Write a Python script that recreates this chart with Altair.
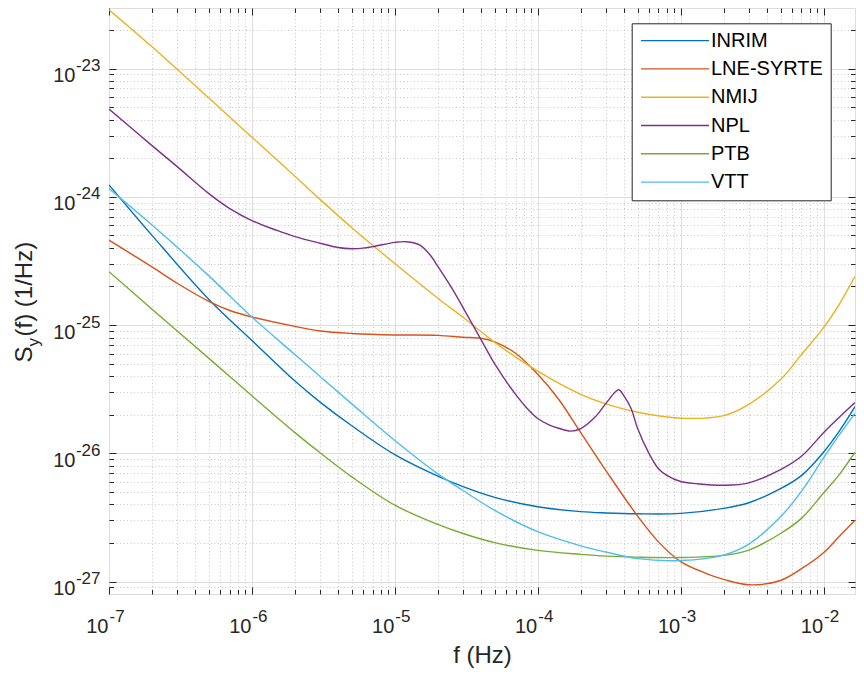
import altair as alt
import pandas as pd

# ---------------- data ----------------
SERIES = ["INRIM", "LNE-SYRTE", "NMIJ", "NPL", "PTB", "VTT"]
COLORS = ["#0072BD", "#D95319", "#EDB120", "#7E2F8E", "#77AC30", "#4DBEEE"]

F_COMMON = [1e-7, 2e-7, 5e-7, 1e-6, 2e-6, 3e-6, 5e-6, 1e-5, 2e-5, 3e-5, 5e-5,
            1e-4, 2e-4, 3e-4, 5e-4, 1e-3, 2e-3, 3e-3, 5e-3, 7e-3, 1e-2, 1.3e-2, 1.66e-2]

INRIM_S = [1.24e-24, 5.01e-25, 1.585e-25, 7.59e-26, 3.66e-26, 2.51e-26, 1.64e-26, 9.77e-27,
           6.64e-27, 5.5e-27, 4.54e-27, 3.83e-27, 3.51e-27, 3.43e-27, 3.38e-27, 3.4e-27,
           3.72e-27, 4.12e-27, 5.3e-27, 6.7e-27, 1.02e-26, 1.51e-26, 2.31e-26]

VTT_S = [1.16e-24, 6.03e-25, 2.42e-25, 1.156e-25, 5.89e-26, 3.98e-26, 2.43e-26, 1.26e-26,
         6.92e-27, 5.13e-27, 3.59e-27, 2.45e-27, 1.9e-27, 1.7e-27, 1.51e-27, 1.46e-27,
         1.61e-27, 1.96e-27, 3.2e-27, 5.05e-27, 9.2e-27, 1.41e-26, 2.05e-26]

PTB_S = [2.61e-25, 1.33e-25, 5.5e-26, 2.81e-26, 1.45e-26, 1.01e-26, 6.56e-27, 3.94e-27,
         2.79e-27, 2.37e-27, 2.01e-27, 1.75e-27, 1.63e-27, 1.58e-27, 1.55e-27, 1.54e-27,
         1.6e-27, 1.76e-27, 2.37e-27, 3.11e-27, 4.9e-27, 6.92e-27, 1.02e-26]

NMIJ_S = [2.88e-23, 1.48e-23, 5.89e-24, 2.92e-24, 1.45e-24, 9.55e-25, 5.75e-25, 3.02e-25,
          1.62e-25, 1.15e-25, 7.33e-26, 4.37e-26, 2.88e-26, 2.43e-26, 2.09e-26, 1.88e-26,
          1.97e-26, 2.41e-26, 3.76e-26, 5.89e-26, 9.55e-26, 1.48e-25, 2.4e-25]

LNE_F = [1e-7, 2e-7, 3e-7, 5e-7, 7e-7, 1e-6, 2e-6, 3e-6, 5e-6, 1e-5, 2e-5, 3e-5, 4e-5,
         5e-5, 7e-5, 1e-4, 1.4e-4, 2e-4, 3e-4, 5e-4, 7e-4, 1e-3, 1.5e-3, 2e-3, 3e-3,
         5e-3, 7e-3, 1e-2, 1.3e-2, 1.66e-2]
LNE_S = [4.6e-25, 2.84e-25, 2.12e-25, 1.53e-25, 1.30e-25, 1.156e-25, 9.77e-26, 9.0e-26,
         8.61e-26, 8.38e-26, 8.32e-26, 8.04e-26, 7.89e-26, 7.41e-26, 6.03e-26, 4.13e-26,
         2.64e-26, 1.45e-26, 7.33e-27, 3.24e-27, 2.04e-27, 1.43e-27, 1.16e-27, 1.04e-27,
         9.44e-28, 1.02e-27, 1.26e-27, 1.68e-27, 2.28e-27, 3.01e-27]

NPL_F = [1e-7, 2e-7, 3e-7, 5e-7, 7e-7, 1e-6, 1.5e-6, 2e-6, 3e-6, 4e-6, 5e-6, 6e-6, 7e-6,
         1e-5, 1.2e-5, 1.5e-5, 1.8e-5, 2e-5, 2.5e-5, 3e-5, 4e-5, 5e-5, 7e-5, 8.5e-5,
         1e-4, 1.2e-4, 1.4e-4, 1.7e-4, 2e-4, 2.5e-4, 3e-4, 3.5e-4, 3.7e-4, 4e-4, 4.5e-4,
         5e-4, 6e-4, 7e-4, 8e-4, 1e-3, 1.3e-3, 2e-3, 3e-3, 5e-3, 7e-3, 1e-2, 1.3e-2,
         1.66e-2]
NPL_S = [4.83e-24, 2.51e-24, 1.72e-24, 1.06e-24, 8.1e-25, 6.53e-25, 5.47e-25, 4.9e-25,
         4.35e-25, 4.03e-25, 3.94e-25, 3.98e-25, 4.09e-25, 4.42e-25, 4.47e-25, 4.21e-25,
         3.43e-25, 2.87e-25, 1.95e-25, 1.37e-25, 7.74e-26, 4.98e-26, 2.88e-26, 2.22e-26,
         1.87e-26, 1.67e-26, 1.57e-26, 1.49e-26, 1.56e-26, 1.9e-26, 2.45e-26, 3.02e-26,
         3.13e-26, 2.82e-26, 2.24e-26, 1.56e-26, 1.0e-26, 7.59e-27, 6.74e-27, 6.03e-27,
         5.8e-27, 5.64e-27, 5.89e-27, 7.46e-27, 9.48e-27, 1.45e-26, 1.93e-26, 2.49e-26]

X_MAJOR = [1e-7, 1e-6, 1e-5, 1e-4, 1e-3, 1e-2]
Y_MAJOR = [1e-27, 1e-26, 1e-25, 1e-24, 1e-23]
X_DOMAIN = [1e-7, 1.66e-2]
Y_DOMAIN = [8e-28, 2.97e-23]
X_MINOR = [m * d for d in X_MAJOR[:-1] for m in range(2, 10)]
Y_MINOR = [9e-28] + [m * d for d in Y_MAJOR[:-1] for m in range(2, 10)] + [2e-23]

series_data = {
    "INRIM": (F_COMMON, INRIM_S),
    "LNE-SYRTE": (LNE_F, LNE_S),
    "NMIJ": (F_COMMON, NMIJ_S),
    "NPL": (NPL_F, NPL_S),
    "PTB": (F_COMMON, PTB_S),
    "VTT": (F_COMMON, VTT_S),
}
rows = []
for name in SERIES:
    fs, ss = series_data[name]
    for f, s in zip(fs, ss):
        rows.append({"series": name, "f": f, "S": s})
df = pd.DataFrame(rows)

# ---------------- styling ----------------
W, H = 746, 586
FONT = "Liberation Sans"
DARK = "#262626"
EXP = "'-' + round(-log(datum.value) / LN10)"

xs = alt.Scale(type="log", domain=X_DOMAIN, nice=False)
ys = alt.Scale(type="log", domain=Y_DOMAIN, nice=False)

common = dict(domain=False, labelFont=FONT, labelColor=DARK, tickColor=DARK, tickWidth=1,
              labelFlush=False, labelOverlap=False, titleFont=FONT, titleColor=DARK,
              titleFontWeight="normal")


def ax(**kw):
    d = dict(common)
    d.update(kw)
    return alt.Axis(**d)


# layer 1: data lines + major grid + "10" labels + titles
lines = alt.Chart(df).mark_line(strokeWidth=1.4, interpolate="catmull-rom", clip=True).encode(
    x=alt.X("f:Q", scale=xs, axis=ax(
        orient="bottom", values=X_MAJOR, grid=True, gridColor="#dedede", gridWidth=1,
        ticks=False, labelExpr="'10'", labelFontSize=20, labelAlign="right",
        labelBaseline="alphabetic", labelPadding=38, labelOffset=-1,
        title="f (Hz)", titleFontSize=24, titleX=W / 2, titleY=68, titleAlign="center",
        titleBaseline="alphabetic")),
    y=alt.Y("S:Q", scale=ys, axis=ax(
        orient="left", values=Y_MAJOR, grid=True, gridColor="#dedede", gridWidth=1,
        ticks=False, labelExpr="'10'", labelFontSize=20, labelAlign="right",
        labelBaseline="alphabetic", labelPadding=34, labelOffset=13,
        title="(f) (1/Hz)", titleFontSize=24, titleAngle=270, titleX=-78, titleY=328,
        titleAlign="left", titleBaseline="alphabetic")),
    color=alt.Color("series:N", title=None,
                    scale=alt.Scale(domain=SERIES, range=COLORS),
                    legend=alt.Legend(orient="none", legendX=522.7, legendY=15.3,
                                      symbolType="M0,0H8", symbolSize=289,
                                      symbolStrokeWidth=1.4, symbolOffset=-8,
                                      labelOffset=60, labelFont=FONT, labelFontSize=20,
                                      labelColor="#000000", padding=7.3, rowPadding=8.3,
                                      fillColor="#ffffff", strokeColor=DARK,
                                      cornerRadius=0, labelLimit=0)),
)

# layer 2: minor grid + "S" title
minor_grid = alt.Chart(df).mark_point(opacity=0).encode(
    x=alt.X("f:Q", scale=xs, title=None, axis=ax(
        orient="bottom", values=X_MINOR, grid=True, gridColor="#c9c9c9", gridDash=[1, 2.5],
        ticks=False, labels=False)),
    y=alt.Y("S:Q", scale=ys, axis=ax(
        orient="left", values=Y_MINOR, grid=True, gridColor="#c9c9c9", gridDash=[1, 2.5],
        ticks=False, labels=False, title="S", titleFontSize=24, titleAngle=270,
        titleX=-78, titleY=354, titleAlign="left", titleBaseline="alphabetic")),
)

# layer 3: inward major ticks bottom/left + exponent labels + subscript "y"
major_ticks = alt.Chart(df).mark_point(opacity=0).encode(
    x=alt.X("f:Q", scale=xs, title=None, axis=ax(
        orient="bottom", offset=-7, values=X_MAJOR, grid=False, ticks=True, tickSize=7,
        labelExpr=EXP, labelFontSize=17, labelAlign="left", labelBaseline="alphabetic",
        labelPadding=27.7)),
    y=alt.Y("S:Q", scale=ys, axis=ax(
        orient="left", offset=-7, values=Y_MAJOR, grid=False, ticks=True, tickSize=7,
        labelExpr=EXP, labelFontSize=17, labelAlign="right", labelBaseline="alphabetic",
        labelPadding=9, labelOffset=2,
        title="y", titleFontSize=17, titleAngle=270, titleX=-78, titleY=338,
        titleAlign="left", titleBaseline="alphabetic")),
)

# layer 4: inward minor ticks bottom/left
minor_ticks = alt.Chart(df).mark_point(opacity=0).encode(
    x=alt.X("f:Q", scale=xs, title=None, axis=ax(
        orient="bottom", offset=-4.5, values=X_MINOR, grid=False, ticks=True,
        tickSize=4.5, labels=False)),
    y=alt.Y("S:Q", scale=ys, title=None, axis=ax(
        orient="left", offset=-4.5, values=Y_MINOR, grid=False, ticks=True,
        tickSize=4.5, labels=False)),
)

# layer 5: inward major ticks top/right
major_ticks_tr = alt.Chart(df).mark_point(opacity=0).encode(
    x=alt.X("f:Q", scale=xs, title=None, axis=ax(
        orient="top", offset=-7, values=X_MAJOR, grid=False, ticks=True, tickSize=7,
        labels=False)),
    y=alt.Y("S:Q", scale=ys, title=None, axis=ax(
        orient="right", offset=-7, values=Y_MAJOR, grid=False, ticks=True, tickSize=7,
        labels=False)),
)

# layer 6: inward minor ticks top/right
minor_ticks_tr = alt.Chart(df).mark_point(opacity=0).encode(
    x=alt.X("f:Q", scale=xs, title=None, axis=ax(
        orient="top", offset=-4.5, values=X_MINOR, grid=False, ticks=True,
        tickSize=4.5, labels=False)),
    y=alt.Y("S:Q", scale=ys, title=None, axis=ax(
        orient="right", offset=-4.5, values=Y_MINOR, grid=False, ticks=True,
        tickSize=4.5, labels=False)),
)

chart = alt.layer(
    lines, minor_grid, major_ticks, minor_ticks, major_ticks_tr, minor_ticks_tr
).resolve_axis(
    x="independent", y="independent"
).properties(
    width=W, height=H,
    padding={"left": 101, "top": 0, "right": 1, "bottom": 78},
    autosize=alt.AutoSizeParams(type="none"),
).configure_view(
    stroke=DARK, strokeWidth=1
).configure(
    font=FONT, background="#ffffff"
)

chart.save("out.html", embed_options={"renderer": "svg", "actions": False})
